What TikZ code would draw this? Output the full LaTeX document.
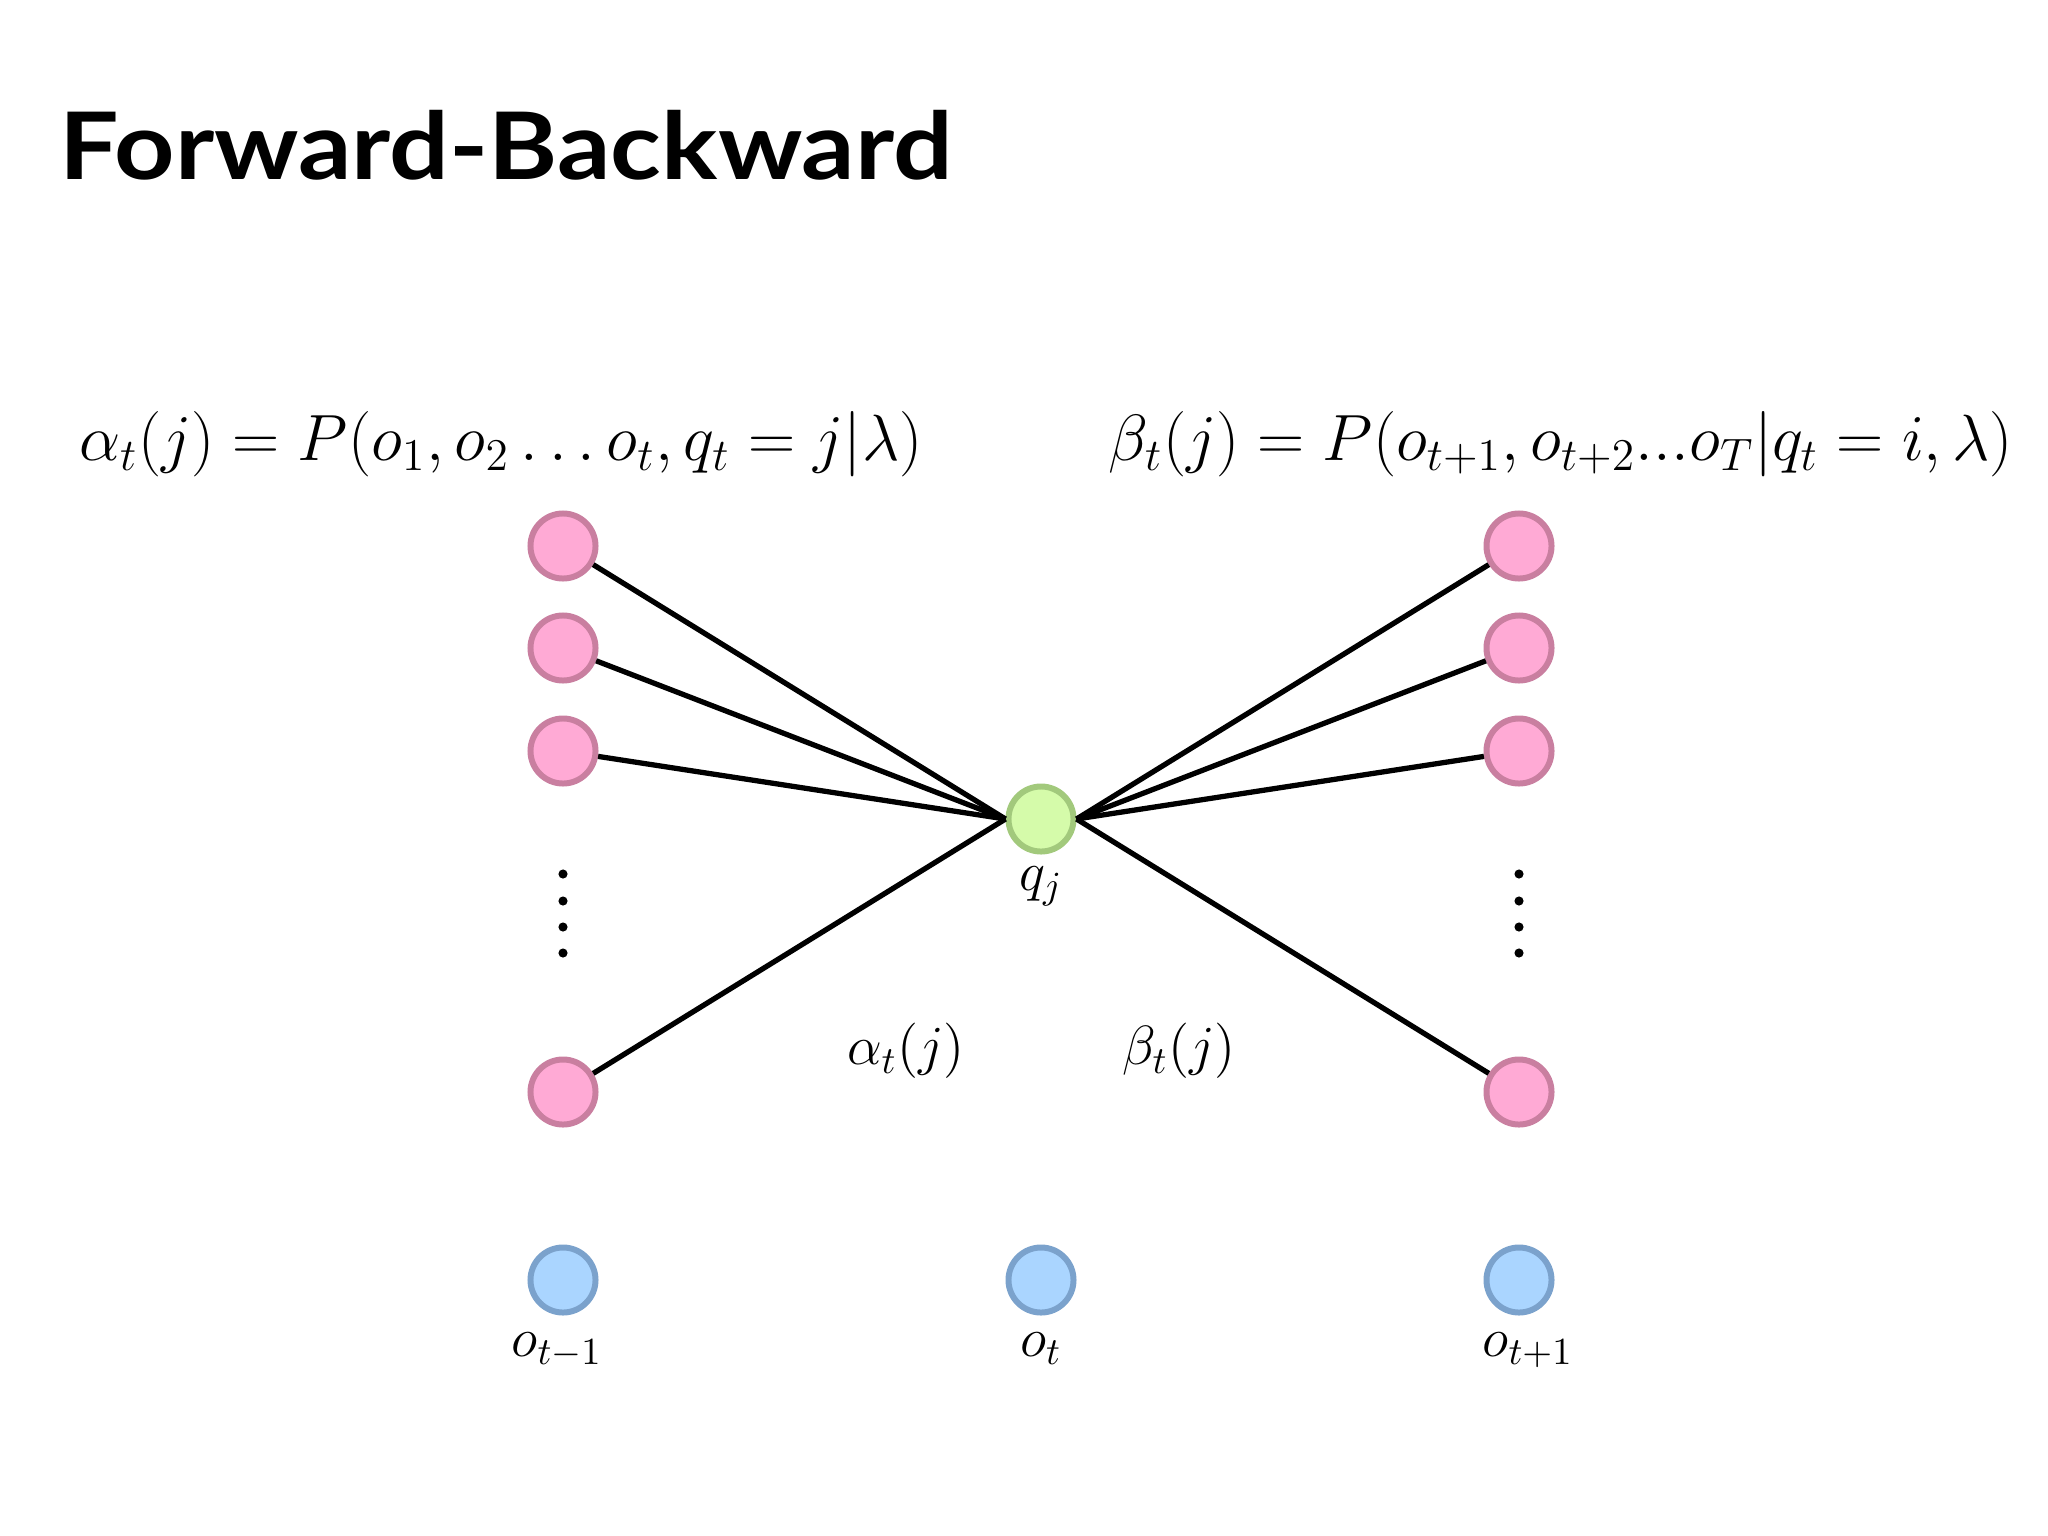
\documentclass[tikz,border=0pt]{standalone}
\usepackage{fontspec}
\newfontfamily\titlefont{Lato}
\definecolor{pinkfill}{HTML}{FFAAD5}
\definecolor{pinkline}{HTML}{C97FA0}
\definecolor{greenfill}{HTML}{D5FBAA}
\definecolor{greenline}{HTML}{A2C97C}
\definecolor{bluefill}{HTML}{AAD5FF}
\definecolor{blueline}{HTML}{7BA2CC}

\begin{document}
\begin{tikzpicture}[x=0.01cm, y=-0.01cm,
  state/.style={circle, minimum size=0.65cm, inner sep=0pt, line width=1.7pt},
  hid/.style={state, draw=pinkline, fill=pinkfill},
  cur/.style={state, draw=greenline, fill=greenfill},
  obs/.style={state, draw=blueline, fill=bluefill},
  edge/.style={line width=1.5pt, black},
  big/.style={font=\fontsize{17.28}{20}\selectfont, scale=1.076},
  lab/.style={font=\fontsize{14.4}{17}\selectfont, scale=1.09}]
\useasboundingbox (0,0) rectangle (2048,1536);
\node[anchor=base west, inner sep=0pt, xscale=1.13, font=\titlefont\bfseries\fontsize{26.5}{30}\selectfont] (title) at (59,179) {Forward-Backward};
\node[big] (alpha) at (501,444) {$\alpha_t(j) = P(o_1, o_2 \ldots o_t, q_t = j|\lambda)$};
\node[big] (beta) at (1561,444) {$\beta_t(j) = P(o_{t+1}, o_{t+2} ... o_T|q_t = i, \lambda)$};
% hidden states at t-1 and t+1
\foreach \y [count=\i] in {546,648,751,1092} {
  \node[hid] (l\i) at (563,\y) {};
  \node[hid] (r\i) at (1519,\y) {};
}
\node[cur] (q) at (1041,819) {};
\node[lab] (qlab) at (1041,886) {$q_j$};
\foreach \i in {1,...,4} {
  \draw[edge] (l\i) -- (q.west);
  \draw[edge] (r\i) -- (q.east);
}
\foreach \y in {874,901,927,953} {
  \fill (563,\y) circle (1.3pt);
  \fill (1519,\y) circle (1.3pt);
}
\node[lab] (a) at (906,1051) {$\alpha_t(j)$};
\node[lab] (b) at (1179,1051) {$\beta_t(j)$};
% observations
\node[obs] (o1) at (563,1280) {};
\node[obs] (o2) at (1041,1280) {};
\node[obs] (o3) at (1519,1280) {};
\node[lab, anchor=base] (o1lab) at (557,1356) {$o_{t-1}$};
\node[lab, anchor=base] (o2lab) at (1041,1356) {$o_t$};
\node[lab, anchor=base] (o3lab) at (1528,1356) {$o_{t+1}$};
\end{tikzpicture}
\end{document}
